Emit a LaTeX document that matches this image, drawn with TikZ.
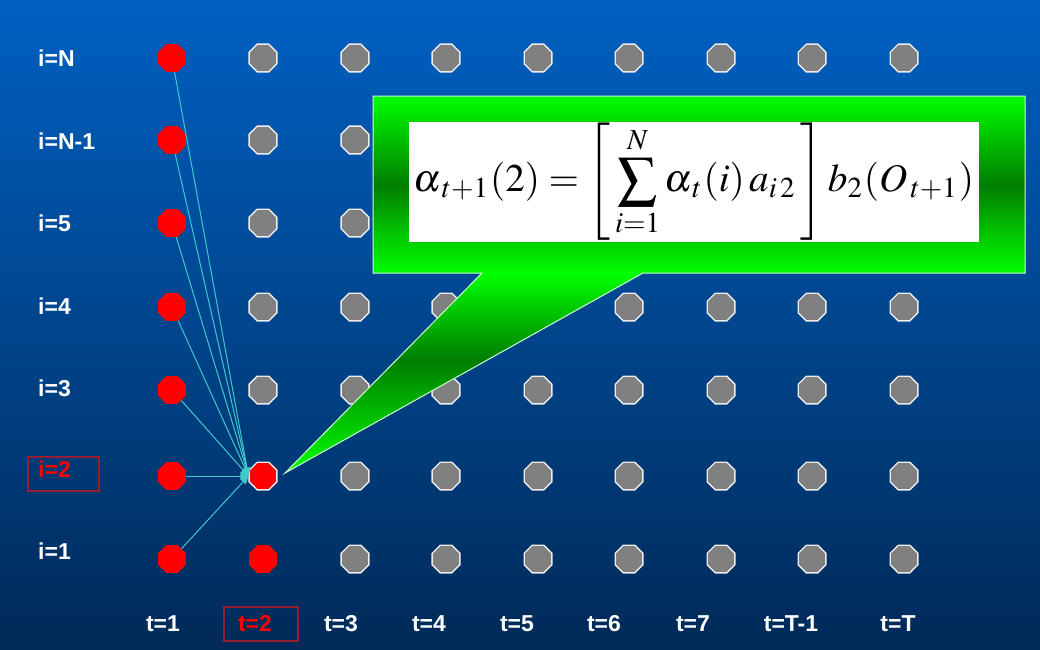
\documentclass[tikz,border=0pt]{standalone}
\usepackage{graphicx}
\usepackage{mathptmx}
\usepackage{fontspec}
\setsansfont{Liberation Sans}
\usetikzlibrary{shapes.geometric,arrows.meta}
\definecolor{bgtop}{RGB}{0,96,194}
\definecolor{bgbot}{RGB}{0,42,88}
\definecolor{gbright}{RGB}{0,255,0}
\definecolor{gdark}{RGB}{0,125,0}
\definecolor{linkc}{RGB}{64,200,205}
\definecolor{boxred}{RGB}{150,30,50}
\definecolor{nodegrey}{RGB}{128,128,128}
\pgfdeclareverticalshading{calloutshade}{100bp}{color(0bp)=(gbright); color(25bp)=(gbright); color(40bp)=(gdark); color(51.5bp)=(gbright); color(63.2bp)=(gdark); color(75bp)=(gbright); color(100bp)=(gbright)}
\tikzset{
  octo/.style={regular polygon, regular polygon sides=8, minimum size=30pt, inner sep=0pt},
  gnode/.style={octo, fill=nodegrey, draw=white!85!gray, line width=1.3pt},
  rnode/.style={octo, fill=red, draw=none},
  rwnode/.style={octo, fill=red, draw=white!85!gray, line width=1.3pt},
  link/.style={draw=linkc, line width=1pt, -{Triangle[length=8pt,width=7pt]}},
  lab/.style={text=white, font=\sffamily\bfseries\fontsize{23}{27}\selectfont, inner sep=0pt},
  redlab/.style={lab, text=red},
  redbox/.style={draw=boxred, line width=1.3pt},
}
\begin{document}
\begin{tikzpicture}[x=1pt,y=-1pt]
\shade[top color=bgtop,bottom color=bgbot] (0,0) rectangle (1040,649);
\useasboundingbox (0,0) rectangle (1040,649);
% grid of states
\foreach \c/\x in {1/172,2/263,3/355,4/446,5/538,6/629,7/721,8/812,9/904}{
  \foreach \r/\y in {1/559,2/476,3/390,4/307,5/223,6/140,7/58}{
    \ifnum\c=1
      \node[rnode] (n-\c-\r) at (\x,\y) {};
    \else
      \ifnum\c=2
        \ifnum\r=1
          \node[rnode] (n-\c-\r) at (\x,\y) {};
        \else
          \ifnum\r=2
            \node[rwnode] (n-\c-\r) at (\x,\y) {};
          \else
            \node[gnode] (n-\c-\r) at (\x,\y) {};
          \fi
        \fi
      \else
        \node[gnode] (n-\c-\r) at (\x,\y) {};
      \fi
    \fi
  }
}
% transitions
\foreach \r in {1,...,7}{
  \draw[link] (n-1-\r) -- (n-2-2.west);
}
% callout
\path[draw=white!80!green, line width=1pt, shading=calloutshade]
  (373,96) -- (1025,96) -- (1025,273) -- (643,273) -- (285,473) -- (482,273) -- (373,273) -- cycle;
\node[fill=white, minimum width=570pt, minimum height=120pt, inner sep=0pt] (formula) at (694,182) {\resizebox{560pt}{!}{$\displaystyle \alpha_{\,t+1}(2)=\left[\,\sum_{i=1}^{N}\alpha_{\,t}(i)\,a_{i\,2}\,\right]b_2(O_{\,t+1})$}};
% row labels
\node[lab, anchor=west] (lN) at (38,58) {i=N};
\node[lab, anchor=west] (lN1) at (38,141) {i=N-1};
\node[lab, anchor=west] (l5) at (38,223) {i=5};
\node[lab, anchor=west] (l4) at (38,306) {i=4};
\node[lab, anchor=west] (l3) at (38,388) {i=3};
\node[redlab, anchor=west] (l2) at (38,469) {i=2};
\draw[redbox] (28,457) rectangle (99,491);
\node[lab, anchor=west] (l1) at (38,551) {i=1};
% column labels
\node[lab] (t1) at (163,624) {t=1};
\node[redlab] (t2) at (255,624) {t=2};
\draw[redbox] (224,607) rectangle (298,641);
\node[lab] (t3) at (341,624) {t=3};
\node[lab] (t4) at (429,624) {t=4};
\node[lab] (t5) at (517,624) {t=5};
\node[lab] (t6) at (604,624) {t=6};
\node[lab] (t7) at (693,624) {t=7};
\node[lab] (tT1) at (791,624) {t=T-1};
\node[lab] (tT) at (898,624) {t=T};
\end{tikzpicture}
\end{document}
